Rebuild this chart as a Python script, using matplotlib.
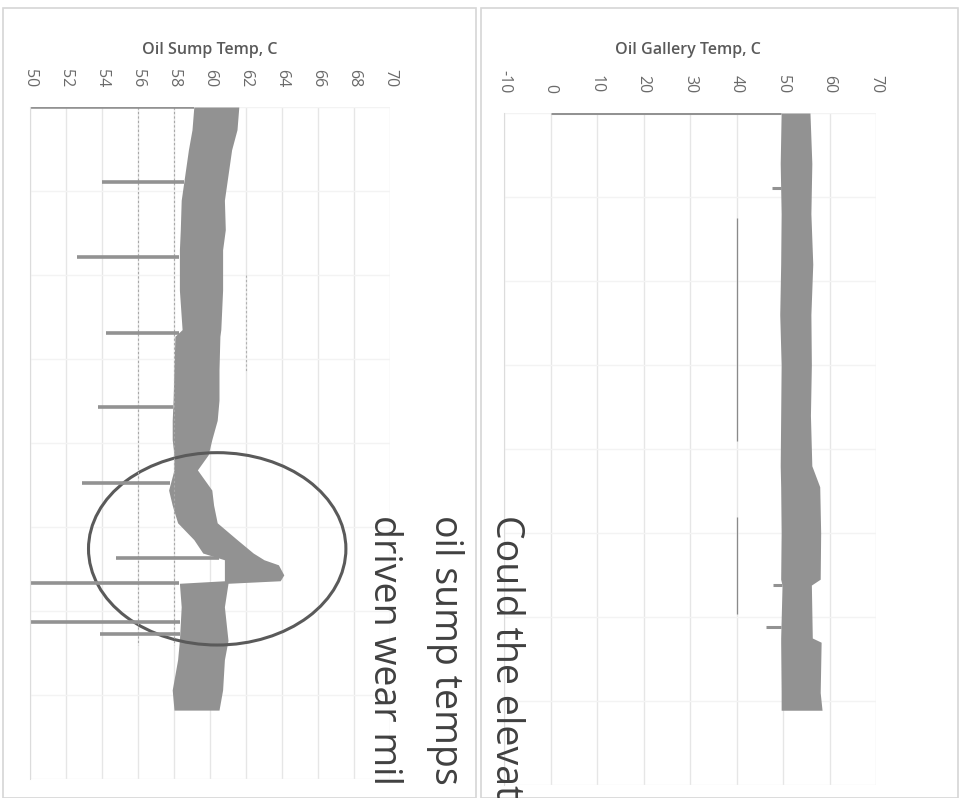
import matplotlib
matplotlib.use("Agg")
import matplotlib.pyplot as plt
from matplotlib.patches import Ellipse, Rectangle
import numpy as np

plt.rcParams['font.family'] = ['Open Sans', 'DejaVu Sans']

# --- oil sump (left chart), time runs downward ---
sump_t = [0, 27, 51, 81, 111, 146, 170, 218, 265, 273, 313, 349, 373, 396, 414, 432,
          456, 474, 495, 515, 531, 539, 545, 557, 564, 567, 595, 635, 658, 694, 718]
sump_lo = [59.1, 59.0, 58.8, 58.6, 58.4, 58.35, 58.3, 58.3, 58.45, 58.05, 58.0, 57.95, 57.9, 57.9, 58.0, 58.0,
           57.7, 57.9, 58.2, 59.1, 59.6, 60.8, 60.8, 60.8, 60.8, 58.3, 58.4, 58.3, 58.2, 57.9, 58.0]
sump_hi = [61.6, 61.5, 61.2, 61.0, 60.8, 60.85, 60.7, 60.7, 60.6, 60.55, 60.5, 60.5, 60.4, 60.1, 59.9, 59.3,
           60.1, 60.2, 60.4, 61.5, 62.4, 63.0, 63.8, 64.1, 63.9, 61.0, 60.8, 61.0, 60.8, 60.7, 60.5]
sump_spike_t = [0, 89, 179, 269, 357, 448, 537, 567, 613, 627]
sump_spike_v = [49.0, 54.0, 52.6, 54.2, 53.8, 52.9, 54.8, 49.0, 49.0, 53.9]
sump_ticks = [50, 52, 54, 56, 58, 60, 62, 64, 66, 68, 70]

# --- oil gallery (right chart) ---
gal_t = [0, 60, 120, 180, 240, 300, 360, 420, 445, 500, 555, 562, 625, 630, 690, 711]
gal_lo = [49.6, 49.4, 49.6, 49.5, 49.3, 49.6, 49.5, 49.4, 49.5, 49.6, 49.5, 49.8, 49.5, 49.5, 49.6, 49.6]
gal_hi = [55.8, 56.2, 56.0, 56.4, 56.0, 56.1, 55.9, 56.2, 57.9, 58.1, 58.0, 56.1, 56.3, 58.2, 58.0, 58.4]
gal_spike_t = [0, 89, 562, 612]
gal_spike_v = [0.0, 47.7, 47.9, 46.3]
gal_min_t0 = [125, 481]
gal_min_t1 = [390, 596]
gal_min_v = 40
gal_ticks = [-10, 0, 10, 20, 30, 40, 50, 60, 70]
gal_ticklabels = ['-10', '0', '10', '20', '30', '40', '50', '60', '70']

note_lines = ["Could the elevat", "oil sump temps", "driven wear mil"]

band = '#929292'
W, H = 963, 798
fig = plt.figure(figsize=(W / 100, H / 100), dpi=100)

# panel frames
for x0, x1 in [(3, 476), (481, 958)]:
    fig.patches.append(Rectangle((x0 / W, 0), (x1 - x0) / W, 1 - 8 / H, transform=fig.transFigure,
                                 fill=False, edgecolor='#d6d6d6', lw=1.2))


def setup(ax, ticks, labels, lo, hi):
    ax.set_xlim(lo, hi)
    ax.set_ylim(800, 0)
    ax.xaxis.tick_top()
    ax.set_xticks(ticks)
    ax.set_xticklabels(labels)
    ax.tick_params(axis='x', length=0, pad=14, labelrotation=-90, labelsize=11.5, colors='#6a6a6a')
    ax.set_yticks(range(0, 801, 100))
    ax.tick_params(axis='y', length=0, labelleft=False)
    ax.grid(axis='x', color='#e6e6e6', lw=1)
    ax.grid(axis='y', color='#f3f3f3', lw=1)
    ax.set_axisbelow(True)
    for s in ['top', 'right', 'bottom']:
        ax.spines[s].set_visible(False)
    ax.spines['left'].set_color('#dcdcdc')


# left chart
ax1 = fig.add_axes([30 / W, 1 - 779 / H, 360 / W, 672 / H])
setup(ax1, sump_ticks, [str(v) for v in sump_ticks], 50, 70)
ax1.vlines([56, 58], 0, 640, colors='#a8a8a8', lw=0.8, linestyles=(0, (2, 2)))
ax1.vlines([62], 200, 316, colors='#b0b0b0', lw=0.8, linestyles=(0, (2, 2)))
ax1.fill_betweenx(sump_t, sump_lo, sump_hi, color=band, lw=0)
ax1.hlines(sump_spike_t, sump_spike_v, np.interp(sump_spike_t, sump_t, sump_lo), color=band, lw=2.6)
ax1.add_patch(Ellipse((60.4, 526), 14.3, 229, fill=False, edgecolor='#5a5a5a', lw=2.2, clip_on=False))

# right chart
ax2 = fig.add_axes([504 / W, 1 - 785 / H, 372 / W, 672 / H])
setup(ax2, gal_ticks, gal_ticklabels, -10, 70)
ax2.vlines([gal_min_v] * len(gal_min_t0), gal_min_t0, gal_min_t1, colors='#8a8a8a', lw=0.9)
ax2.fill_betweenx(gal_t, gal_lo, gal_hi, color=band, lw=0)
ax2.hlines(gal_spike_t, gal_spike_v, np.interp(gal_spike_t, gal_t, gal_lo), color=band, lw=2.2)

# titles
fig.text(210 / W, 1 - 50 / H, "Oil Sump Temp, C", ha='center', va='center', fontsize=11.5,
         color='#5a5a5a', fontweight='semibold')
fig.text(688 / W, 1 - 50 / H, "Oil Gallery Temp, C", ha='center', va='center', fontsize=11.5,
         color='#5a5a5a', fontweight='semibold')

# rotated annotation, clipped by the page edge
for i, line in enumerate(note_lines):
    fig.text((506 - 61 * i) / W, 1 - 515 / H, line, rotation=-90, ha='center', va='top',
             fontsize=27, color='#404040')

fig.savefig('out.png', dpi=100)
